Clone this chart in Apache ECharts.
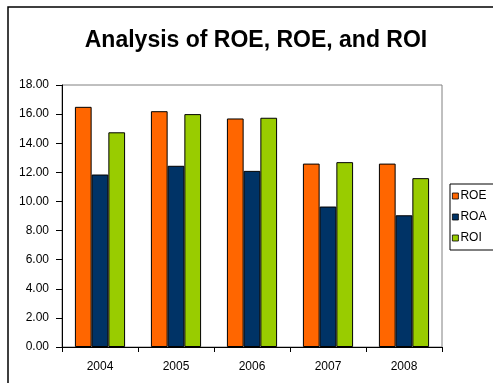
<!DOCTYPE html>
<html>
<head>
<meta charset="utf-8">
<script src="https://cdn.jsdelivr.net/npm/echarts@6/dist/echarts.min.js"></script>
<style>
  html, body { margin: 0; padding: 0; background: #fff; }
  #chart { width: 493px; height: 383px; }
</style>
</head>
<body>
<div id="chart"></div>
<script>
// data
const years = ['2004', '2005', '2006', '2007', '2008']
const roe = [16.5, 16.2, 15.7, 12.6, 12.6]
const roa = [11.85, 12.45, 12.1, 9.65, 9.05]
const roi = [14.75, 16.0, 15.75, 12.7, 11.6]

const chart = echarts.init(document.getElementById('chart'))

const barStyle = color => ({ color: color, borderColor: '#000', borderWidth: 1 })

const option = {
  animation: false,
  textStyle: { fontFamily: 'Liberation Sans, Arial, sans-serif' },
  graphic: [{
    type: 'rect',
    shape: { x: 8, y: 7, width: 520, height: 420 },
    style: { fill: 'none', stroke: '#000', lineWidth: 1.5 },
    silent: true
  }],
  title: {
    text: 'Analysis of ROE, ROE, and ROI',
    left: 251,
    top: 24,
    textAlign: 'center',
    textStyle: { fontSize: 23, fontWeight: 'bold', color: '#000' }
  },
  legend: {
    data: ['ROE', 'ROA', 'ROI'],
    orient: 'vertical',
    left: 450,
    top: 184,
    itemWidth: 6,
    itemHeight: 6,
    itemGap: 9,
    padding: [6, 20, 6, 2],
    borderColor: '#000',
    borderWidth: 1,
    icon: 'rect',
    itemStyle: { borderColor: '#000', borderWidth: 0.8 },
    textStyle: { fontSize: 12, lineHeight: 12, color: '#000', padding: [0, 0, 0, -3] }
  },
  grid: {
    left: 62,
    right: 51,
    top: 85,
    bottom: 36,
    show: true,
    borderColor: '#808080',
    borderWidth: 1,
    backgroundColor: '#fff'
  },
  xAxis: {
    type: 'category',
    data: years,
    axisLine: { lineStyle: { color: '#000' } },
    axisTick: { show: true, length: 5, lineStyle: { color: '#000' } },
    axisLabel: { color: '#000', fontSize: 12, margin: 14 }
  },
  yAxis: {
    type: 'value',
    min: 0,
    max: 18,
    interval: 2,
    axisLine: { show: true, lineStyle: { color: '#000' } },
    axisTick: { show: true, length: 6, lineStyle: { color: '#000' } },
    splitLine: { show: false },
    axisLabel: {
      color: '#000',
      fontSize: 12,
      margin: 13,
      formatter: v => v.toFixed(2)
    }
  },
  series: [
    { name: 'ROE', type: 'bar', data: roe, itemStyle: barStyle('#FF6600'), barGap: '0%', barCategoryGap: '34%' },
    { name: 'ROA', type: 'bar', data: roa, itemStyle: barStyle('#003366'), barGap: '0%', barCategoryGap: '34%' },
    { name: 'ROI', type: 'bar', data: roi, itemStyle: barStyle('#99CC00'), barGap: '0%', barCategoryGap: '34%' }
  ]
}

chart.setOption(option)
</script>
</body>
</html>
